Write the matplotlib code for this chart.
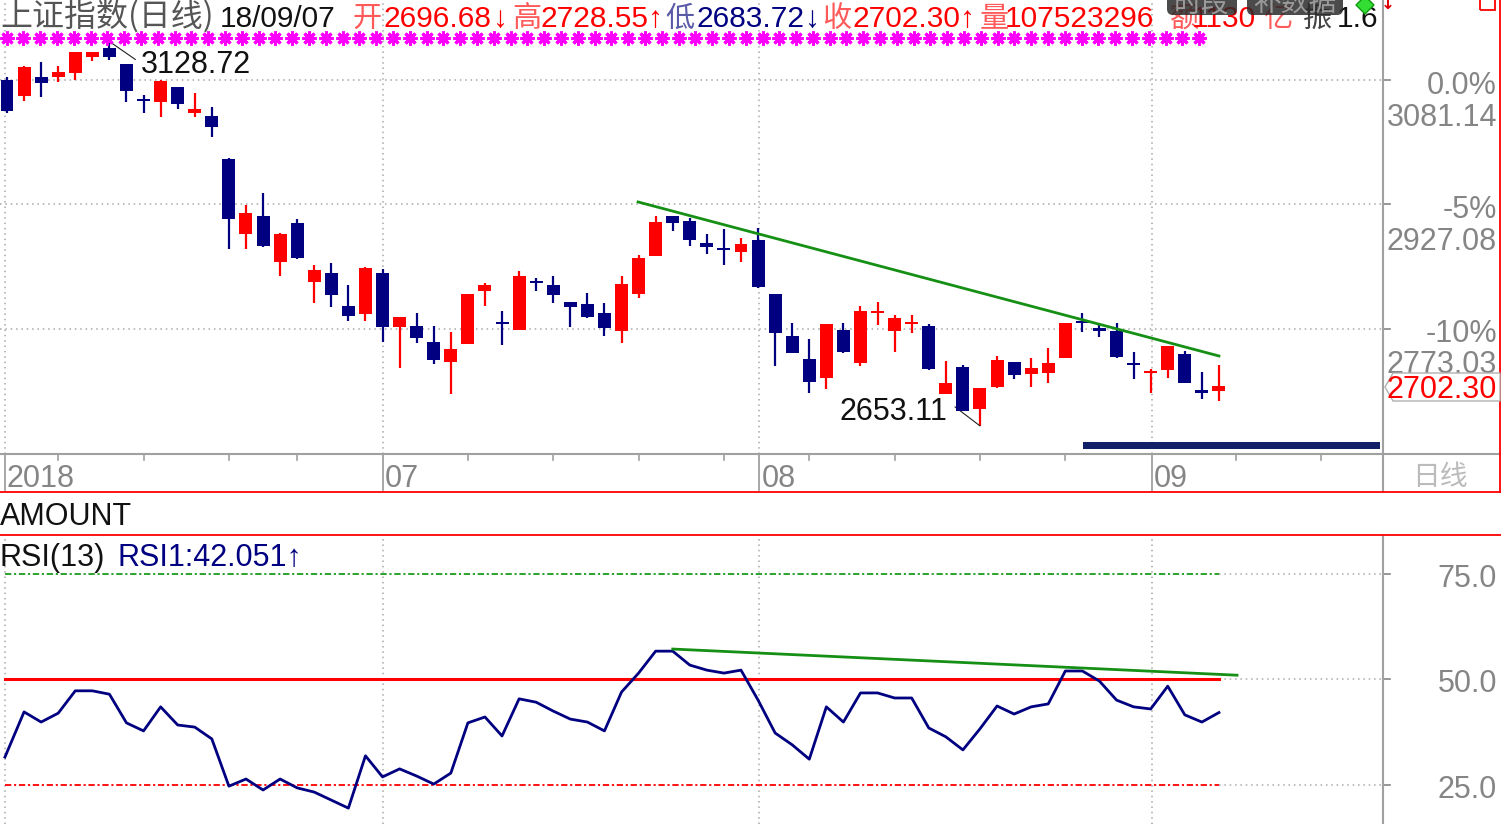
import numpy as np
import matplotlib
matplotlib.use('Agg')
import matplotlib.pyplot as plt
from matplotlib.patches import Rectangle, Polygon, FancyBboxPatch
from matplotlib.lines import Line2D
from matplotlib.transforms import blended_transform_factory

# ---------------- data ----------------
opens = [3081.1, 3061.3, 3084.9, 3084.9, 3089.8, 3109.6, 3120.7, 3100.9, 3057.6, 3053.9,
         3072.5, 3040.3, 3036.6, 2983.4, 2890.6, 2912.8, 2855.9, 2904.2, 2831.2, 2842.3,
         2801.5, 2791.6, 2842.3, 2775.5, 2776.7, 2756.9, 2732.2, 2754.5, 2820.0, 2781.7,
         2771.8, 2832.4, 2827.5, 2806.4, 2803.9, 2792.8, 2770.6, 2816.3, 2863.4, 2912.8,
         2906.7, 2879.4, 2873.2, 2868.3, 2883.2, 2816.3, 2764.4, 2735.9, 2712.4, 2771.8,
         2730.9, 2792.8, 2770.6, 2779.2, 2776.7, 2692.6, 2726.0, 2674.1, 2701.2, 2732.2,
         2717.3, 2718.6, 2737.1, 2782.9, 2774.3, 2770.6, 2730.9, 2718.6, 2722.3, 2742.1,
         2697.5, 2696.68]
highs = [3084.9, 3098.5, 3103.4, 3098.5, 3115.8, 3115.8, 3128.72, 3100.9, 3062.6, 3081.1,
         3072.5, 3065.1, 3047.7, 2984.6, 2926.5, 2941.3, 2891.8, 2909.1, 2852.2, 2854.7,
         2827.5, 2849.7, 2847.3, 2787.9, 2792.8, 2776.7, 2769.3, 2816.3, 2829.9, 2795.3,
         2844.8, 2836.1, 2838.6, 2806.4, 2817.6, 2805.2, 2838.6, 2864.6, 2912.8, 2912.8,
         2910.4, 2890.6, 2896.8, 2885.6, 2898.0, 2816.3, 2780.4, 2760.6, 2779.2, 2780.4,
         2801.5, 2806.4, 2790.3, 2790.3, 2779.2, 2733.4, 2728.5, 2700.0, 2739.6, 2732.2,
         2737.1, 2749.5, 2780.4, 2792.8, 2780.4, 2780.4, 2744.6, 2723.5, 2752.0, 2745.8,
         2719.8, 2728.55]
lows = [3040.3, 3055.2, 3060.1, 3078.7, 3081.1, 3104.7, 3105.9, 3053.9, 3040.3, 3035.4,
        3045.2, 3035.4, 3010.6, 2872.0, 2872.0, 2874.5, 2838.6, 2859.6, 2805.2, 2800.2,
        2782.9, 2782.9, 2756.9, 2724.8, 2755.7, 2729.7, 2692.6, 2754.5, 2801.5, 2753.2,
        2771.8, 2820.0, 2805.2, 2775.5, 2786.6, 2764.4, 2755.7, 2811.4, 2863.4, 2894.3,
        2875.7, 2865.8, 2852.2, 2855.9, 2823.7, 2727.2, 2743.3, 2693.8, 2698.8, 2743.3,
        2727.2, 2778.0, 2744.6, 2768.1, 2722.3, 2692.6, 2671.6, 2653.11, 2700.0, 2711.1,
        2701.2, 2706.2, 2737.1, 2769.3, 2763.1, 2737.1, 2711.1, 2693.8, 2712.4, 2706.2,
        2686.4, 2683.72]
closes = [3042.8, 3097.2, 3077.4, 3091.0, 3115.8, 3115.8, 3109.6, 3067.5, 3055.2, 3079.9,
          3051.4, 3045.2, 3023.0, 2909.1, 2916.6, 2875.7, 2890.6, 2860.9, 2846.0, 2815.1,
          2789.1, 2848.5, 2775.5, 2787.9, 2761.9, 2734.7, 2748.3, 2816.3, 2827.5, 2779.2,
          2838.6, 2829.9, 2815.1, 2800.2, 2787.9, 2774.3, 2828.7, 2860.9, 2905.4, 2904.2,
          2883.2, 2874.5, 2870.8, 2878.2, 2825.0, 2768.1, 2743.3, 2707.4, 2779.2, 2744.6,
          2795.3, 2795.3, 2786.6, 2781.7, 2723.5, 2706.2, 2671.6, 2700.0, 2734.7, 2716.1,
          2724.8, 2730.9, 2780.4, 2780.4, 2770.6, 2738.4, 2728.5, 2721.1, 2752.0, 2706.2,
          2693.8, 2702.30]
rsi = [31.5, 42.2, 39.8, 41.9, 47.2, 47.2, 46.4, 39.6, 37.7, 43.4,
       39.1, 38.6, 35.8, 24.6, 26.3, 23.7, 26.3, 24.2, 23.2, 21.3,
       19.4, 31.8, 26.8, 28.7, 27.0, 25.1, 27.7, 39.6, 41.0, 36.5,
       45.3, 44.5, 42.4, 40.5, 39.8, 37.7, 46.9, 51.4, 56.6, 56.6,
       53.3, 52.1, 51.4, 52.1, 45.0, 37.2, 34.4, 31.0, 43.4, 39.8,
       46.7, 46.7, 45.5, 45.5, 38.4, 36.3, 33.2, 38.2, 43.6, 41.7,
       43.4, 44.1, 51.9, 51.9, 49.5, 45.0, 43.4, 42.9, 48.3, 41.5,
       39.8, 42.051]

title_name = "上证指数(日线)"
date_str = "18/09/07"
volume = 107523296
amount_text = "1130"
amplitude_text = "1.6"
base_price = 3081.14
pct_levels = [0.0, -5, -10]
price_levels = [3081.14, 2927.08, 2773.03]
rsi_levels = [75.0, 50.0, 25.0]
month_pos = [-0.12, 22, 44.08, 67.05]
month_labels = ["2018", "07", "08", "09"]
week_pos = [3, 8, 13, 17, 27, 32, 37, 42, 47, 52, 57, 62, 72, 77]
trend_price_x = [36.97, 71.0]
trend_price_y = [2930.2, 2739.6]
trend_rsi_x = [39.0, 72.06]
trend_rsi_y = [57.1, 50.9]
hi_idx, lo_idx = 6, 57
bar_x = [63.03, 80.43]
bar_y = [2624.5, 2633.2]

# ---------------- figure ----------------
W, H = 1501, 824
fig = plt.figure(figsize=(W / 100, H / 100), dpi=100)
fig.patch.set_facecolor('white')
LAT = ['Liberation Sans', 'DejaVu Sans']
CJK = ['Noto Sans CJK SC', 'DejaVu Sans']
RED = '#ff0000'
NAVY = '#000080'
GRAY = '#858585'
GRID = '#a8a8a8'
GREEN = '#159015'


def fx(x):
    return x / W


def fy(y):
    return 1 - y / H


def ftext(x, y, s, **kw):
    fig.text(fx(x), fy(y), s, **kw)


def fline(xs, ys, **kw):
    fig.add_artist(Line2D([fx(v) for v in xs], [fy(v) for v in ys],
                          transform=fig.transFigure, **kw))


XL = (-0.41, 80.61)
idx = np.arange(len(opens))
o = np.array(opens); c = np.array(closes); h = np.array(highs); l = np.array(lows)
up = c >= o
cols = np.where(up, RED, NAVY)

# ---- price panel ----
ax = fig.add_axes([0, fy(454), fx(1383), 454 / H])
ax.set_xlim(*XL)
ax.set_ylim(2618.3, 3180.1)
ax.set_axis_off()

for lv in price_levels:
    ax.plot([XL[0], XL[1]], [lv, lv], color=GRID, ls=(0, (1, 2.5)), lw=1.1, zorder=1)
    ax.plot([XL[1], XL[1] + 0.4], [lv, lv], color=GRAY, lw=1.2, clip_on=False)
for m in month_pos:
    ax.axvline(m, color=GRID, ls=(0, (1, 2.5)), lw=1.1, zorder=1)

ax.vlines(idx, l, h, colors=cols, lw=1.6, zorder=3)
minh = 3.0
bh = np.abs(c - o)
bot = np.minimum(o, c)
bot = np.where(bh < minh, (o + c) / 2 - minh / 2, bot)
bh = np.maximum(bh, minh)
ax.bar(idx, bh, bottom=bot, width=0.76, color=cols, zorder=4, linewidth=0)

ax.plot(trend_price_x, trend_price_y, color=GREEN, lw=2.0, zorder=5)

ax.add_patch(Rectangle((bar_x[0], bar_y[0]), bar_x[1] - bar_x[0], bar_y[1] - bar_y[0],
                       color='#122068', lw=0, zorder=5, clip_on=False))

# high / low annotations
ax.annotate('', xy=(hi_idx, highs[hi_idx]), xytext=(26, -18), textcoords='offset pixels',
            arrowprops=dict(arrowstyle='-', lw=0.8, color='#222222', shrinkA=0, shrinkB=0))
ax.annotate(f"{highs[hi_idx]:.2f}", xy=(hi_idx, highs[hi_idx]), xytext=(31, -31),
            textcoords='offset pixels', ha='left', va='baseline', fontsize=22,
            family=LAT, color='#111111')
ax.annotate('', xy=(lo_idx, lows[lo_idx]), xytext=(-25, 19), textcoords='offset pixels',
            arrowprops=dict(arrowstyle='-', lw=0.8, color='#222222', shrinkA=0, shrinkB=0))
ax.annotate(f"{lows[lo_idx]:.2f}", xy=(lo_idx, lows[lo_idx]), xytext=(-33, 6),
            textcoords='offset pixels', ha='right', va='baseline', fontsize=22,
            family=LAT, color='#111111')

# asterisk row
tr = blended_transform_factory(ax.transData, fig.transFigure)
ast_x = np.arange(72) * 0.984 - 0.02
ax.plot(ast_x, np.full(len(ast_x), fy(38)), ls='none', marker=(8, 2, 0), ms=10, mew=2.2,
        color='#ff00ff', transform=tr, clip_on=False, zorder=6)

# ---- RSI panel ----
ax2 = fig.add_axes([0, 0, fx(1383), 287 / H])
ax2.set_xlim(*XL)
ax2.set_ylim(15.64, 83.65)
ax2.set_axis_off()
for m in month_pos:
    ax2.axvline(m, color=GRID, ls=(0, (1, 2.5)), lw=1.1, zorder=1)
ax2.plot([-0.12, 71], [75, 75], color='#1a9a1a', ls=(0, (3.5, 1.5, 1.2, 1.5)), lw=1.3)
ax2.plot([-0.12, 71], [25, 25], color=RED, ls=(0, (3.5, 1.5, 1.2, 1.5)), lw=1.3)
ax2.plot([-0.12, 71], [50, 50], color=RED, lw=2.2, zorder=3)
for lv in rsi_levels:
    ax2.plot([71, XL[1]], [lv, lv], color=GRID, ls=(0, (1, 2.5)), lw=1.1)
    ax2.plot([XL[1], XL[1] + 0.4], [lv, lv], color=GRAY, lw=1.2, clip_on=False)
rx = idx.astype(float).copy()
rx[0] = -0.12
ax2.plot(rx, rsi, color=NAVY, lw=2.0, zorder=4)
ax2.plot(trend_rsi_x, trend_rsi_y, color=GREEN, lw=2.0, zorder=5)

# ---- frame lines ----
fline([1383, 1383], [0, 491], color='#a0a0a0', lw=1.5)
fline([1383, 1383], [536, 824], color='#a0a0a0', lw=1.5)
fline([0, W], [454, 454], color='#a0a0a0', lw=1.5)
fline([0, W], [492, 492], color=RED, lw=1.3)
fline([0, W], [535, 535], color=RED, lw=1.3)
fline([1499.5, 1499.5], [0, 492], color=RED, lw=1.3)
for m in month_pos:
    px = 7 + m * 17.07
    fline([px, px], [454, 490], color='#a0a0a0', lw=1.3)
for wpos in week_pos:
    px = 7 + wpos * 17.07
    fline([px, px], [454, 460], color='#a0a0a0', lw=1.2)
for m, lab in zip(month_pos, month_labels):
    px = 7 + m * 17.07
    ftext(px + 2, 487, lab, ha='left', va='baseline', fontsize=22, family=LAT, color=GRAY)
ftext(1412, 485, "日线", ha='left', va='baseline', fontsize=20, family=CJK, color='#bbbbbb')

# ---- right axis labels ----
pct_base = [94, 218, 342]
val_base = [126, 250, 373]
for p, v, bp, bv in zip(pct_levels, price_levels, pct_base, val_base):
    ptxt = "0.0%" if p == 0 else f"{p:.0f}%"
    ftext(1497, bp, ptxt, ha='right', va='baseline', fontsize=22, family=LAT, color=GRAY, zorder=1)
    ftext(1497, bv, f"{v:.2f}", ha='right', va='baseline', fontsize=22, family=LAT, color=GRAY, zorder=1)
poly = Polygon([(fx(1385), fy(387)), (fx(1393), fy(373)), (fx(1500), fy(373)),
                (fx(1500), fy(401)), (fx(1393), fy(401))], closed=True,
               transform=fig.transFigure, fc='white', ec='#b0b0b0', lw=1, zorder=2)
fig.add_artist(poly)
ftext(1497, 398, f"{closes[-1]:.2f}", ha='right', va='baseline', fontsize=22, family=LAT,
      color=RED, zorder=3)
for lv, bl in zip(rsi_levels, [587, 692, 798]):
    ftext(1497, bl, f"{lv:.1f}", ha='right', va='baseline', fontsize=22, family=LAT, color=GRAY)

# ---- sub-panel titles ----
ftext(0, 525, "AMOUNT", ha='left', va='baseline', fontsize=22, family=LAT, color='#111111')
ftext(0, 566, "RSI(13)", ha='left', va='baseline', fontsize=22, family=LAT, color='#111111')
ftext(118, 566, f"RSI1:{rsi[-1]:.3f}↑", ha='left', va='baseline', fontsize=22, family=LAT, color=NAVY)

# ---- header ----
LRED = '#ff5a5a'
header = [
    (0, title_name, '#555555', CJK, 23),
    (220, date_str, '#111111', LAT, 21.5),
    (353, "开", LRED, CJK, 21),
    (383, f"{opens[-1]:.2f}", RED, LAT, 21.5),
    (493, "↓", RED, LAT, 21.5),
    (512, "高", LRED, CJK, 21),
    (540, f"{highs[-1]:.2f}", RED, LAT, 21.5),
    (648, "↑", RED, LAT, 21.5),
    (665, "低", '#5a5aa8', CJK, 21),
    (697, f"{lows[-1]:.2f}", NAVY, LAT, 21.5),
    (805, "↓", NAVY, LAT, 21.5),
    (822, "收", LRED, CJK, 21),
    (853, f"{closes[-1]:.2f}", RED, LAT, 21.5),
    (960, "↑", RED, LAT, 21.5),
    (980, "量", LRED, CJK, 21),
    (1005, f"{volume}", RED, LAT, 21.5),
    (1170, "额", LRED, CJK, 21),
    (1192, amount_text, RED, LAT, 21.5),
    (1263, "亿", LRED, CJK, 21),
    (1303, "振", '#444444', CJK, 21),
    (1337, amplitude_text, '#111111', LAT, 21.5),
]
for x, s, col, fam, fs in header:
    ftext(x, 27, s, ha='left', va='baseline', fontsize=fs, family=fam, color=col, zorder=1)

# overlay buttons (partly covering the header, as in the reference)
for x0, x1, lab in [(1167, 1237, "时段"), (1247, 1343, "补数据")]:
    b = FancyBboxPatch((fx(x0), fy(15)), fx(x1 - x0), 25 / H,
                       boxstyle='round,pad=0,rounding_size=0.004', mutation_aspect=W / H,
                       transform=fig.transFigure, fc='#2b2b2b', ec='none', alpha=0.85, zorder=5)
    fig.add_artist(b)
    ftext((x0 + x1) / 2, 11, lab, ha='center', va='baseline', fontsize=20, family=CJK,
          color='#9a9a9a', zorder=6)

# small icons top right
fig.add_artist(Polygon([(fx(1356), fy(5)), (fx(1365), fy(-4)), (fx(1374), fy(5)), (fx(1365), fy(14))],
                       closed=True, transform=fig.transFigure, fc='#33dd33', ec='#119911', lw=1, zorder=7))
ftext(1388, 9, "↓", ha='center', va='baseline', fontsize=12, family=['DejaVu Sans'],
      color='#dd0000', weight='bold', zorder=7)
fig.add_artist(Rectangle((fx(1480), fy(10)), fx(15), 14 / H, transform=fig.transFigure,
                         fc='none', ec=RED, lw=1.3, zorder=7))

fig.savefig('out.png', dpi=100, facecolor='white')
